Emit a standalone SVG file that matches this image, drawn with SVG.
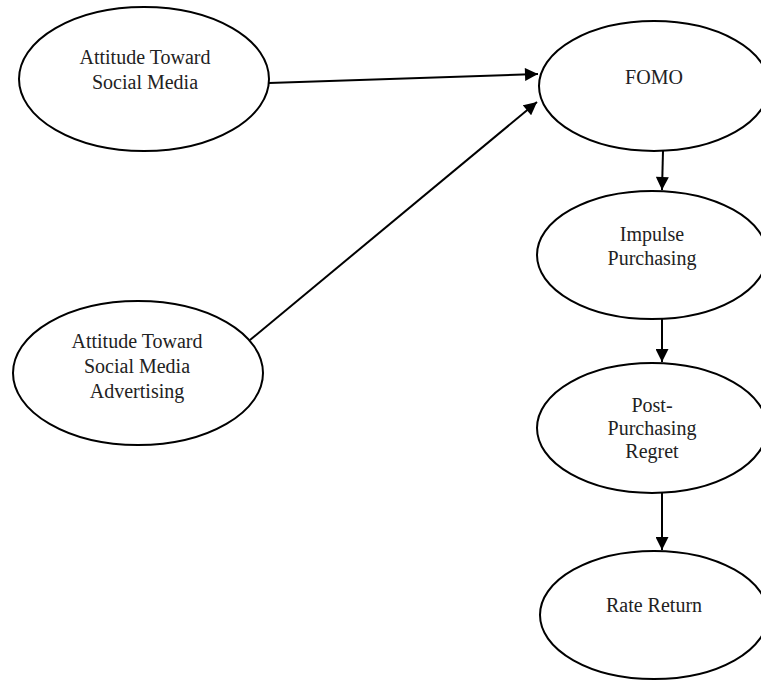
<svg xmlns="http://www.w3.org/2000/svg" width="761" height="682" viewBox="0 0 761 682">
<defs>
<style>
.node ellipse{fill:#fff;stroke:#000;stroke-width:2}
.node text{font-family:"Liberation Serif","Times New Roman",serif;font-size:20px;fill:#222;text-anchor:middle}
.edges line{stroke:#000;stroke-width:2}
</style>
<marker id="arr" viewBox="0 0 10 10" refX="10" refY="5" markerWidth="7" markerHeight="6.5" markerUnits="strokeWidth" orient="auto">
<path d="M0,0 L10,5 L0,10 Z" fill="#000"/>
</marker>
</defs>
<rect width="761" height="682" fill="#fff"/>
<g class="edges">
<line x1="269" y1="83" x2="538" y2="74" marker-end="url(#arr)"/>
<line x1="250" y1="340" x2="537" y2="102" marker-end="url(#arr)"/>
<line x1="663" y1="151" x2="662" y2="190" marker-end="url(#arr)"/>
<line x1="662" y1="318" x2="662" y2="362" marker-end="url(#arr)"/>
<line x1="662" y1="493" x2="662" y2="550" marker-end="url(#arr)"/>
</g>
<g id="n1" class="node">
<ellipse cx="144" cy="79" rx="125" ry="72"/>
<text x="145" y="64">Attitude Toward</text>
<text x="145" y="89">Social Media</text>
</g>
<g id="n2" class="node">
<ellipse cx="138" cy="373" rx="125" ry="72"/>
<text x="137" y="348">Attitude Toward</text>
<text x="137" y="373">Social Media</text>
<text x="137" y="398">Advertising</text>
</g>
<g id="n3" class="node">
<ellipse cx="654" cy="86" rx="115" ry="65"/>
<text x="654" y="84">FOMO</text>
</g>
<g id="n4" class="node">
<ellipse cx="652" cy="255" rx="115" ry="64"/>
<text x="652" y="241">Impulse</text>
<text x="652" y="265">Purchasing</text>
</g>
<g id="n5" class="node">
<ellipse cx="652" cy="428" rx="115" ry="65"/>
<text x="652" y="412">Post-</text>
<text x="652" y="435">Purchasing</text>
<text x="652" y="458">Regret</text>
</g>
<g id="n6" class="node">
<ellipse cx="654" cy="615" rx="114" ry="64"/>
<text x="654" y="612">Rate Return</text>
</g>
</svg>
